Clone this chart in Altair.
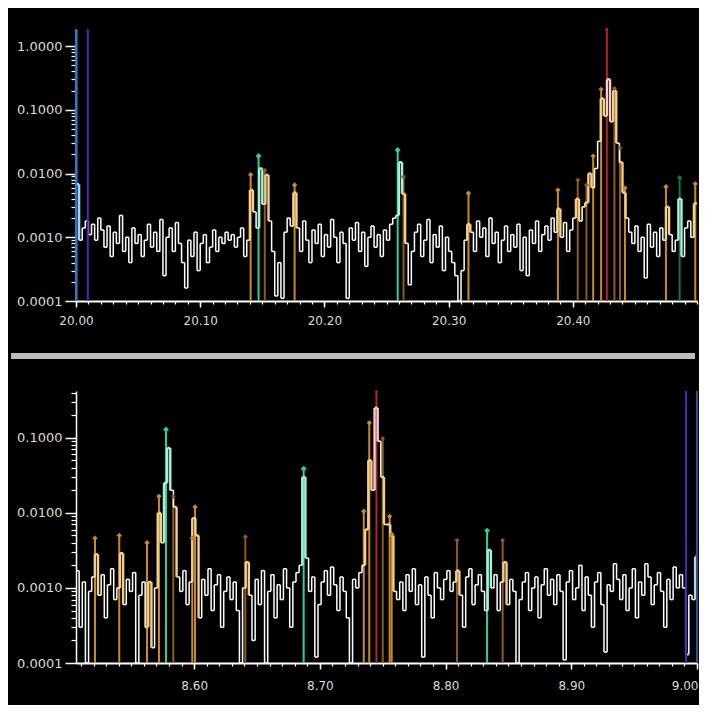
import altair as alt
import pandas as pd

# ---------------- data (intensities in units of 1e-4) ----------------
bin_width = 0.0025

top_x_domain = [20.0, 20.5]
top_y_domain = [0.0001, 1.85]
top_spec_e4 = [
    68, 9, 14, 18, 11, 16, 9, 20, 13, 7,
    15, 5, 12, 8, 22, 6, 10, 4, 14, 8,
    11, 5, 9, 16, 7, 12, 6, 19, 2.5, 10,
    14, 6, 17, 8, 4, 1.6, 9, 5, 12, 3,
    8, 11, 4, 7, 13, 6, 10, 8, 12, 9,
    11, 7, 10, 14, 5, 9, 55, 25, 14, 120,
    33, 95, 18, 6, 1.2, 4, 1.1, 12, 20, 15,
    50, 14, 6, 18, 9, 4, 13, 8, 16, 5,
    11, 7, 19, 10, 4, 12, 8, 1.1, 14, 9,
    17, 6, 12, 3.5, 10, 15, 7, 11, 5, 13,
    9, 16, 20, 22, 150, 48, 8, 1.8, 6, 12,
    16, 5, 9, 19, 4, 11, 7, 15, 3, 10,
    6, 4, 2.5, 1.0, 3, 9, 16, 12, 6, 18,
    10, 14, 5, 20, 8, 12, 4, 9, 15, 6,
    11, 7, 16, 3, 10, 2.5, 13, 8, 18, 6,
    11, 15, 9, 20, 12, 28, 10, 17, 6, 13,
    20, 40, 18, 30, 35, 100, 60, 120, 320, 1500,
    800, 3000, 650, 2000, 300, 150, 50, 20, 12, 8,
    15, 6, 10, 2.3, 16, 7, 12, 5, 14, 9,
    30, 11, 6, 9, 40, 5, 14, 18, 10, 34,
]
top_highlight = {0: "b", 56: "y", 59: "c", 61: "y", 70: "y", 104: "c", 105: "y",
                 126: "y", 155: "y", 161: "y", 164: "y", 165: "y", 169: "y",
                 171: "p", 173: "y", 175: "y", 176: "y", 190: "y", 194: "c", 199: "y"}
top_stick_x = [20.1406, 20.1470, 20.1520, 20.1760, 20.2590, 20.2637, 20.3160,
               20.3880, 20.4040, 20.4110, 20.4164, 20.4228, 20.4274, 20.4335,
               20.4380, 20.4420, 20.4750, 20.4860, 20.4986]
top_stick_y = [0.0096, 0.0188, 0.0113, 0.0066, 0.0234, 0.0089, 0.0049,
               0.0055, 0.0079, 0.0066, 0.0188, 0.209, 1.83, 0.217,
               0.0254, 0.0059, 0.0062, 0.0086, 0.0069]
top_stick_kind = ["o", "g", "od", "o", "g", "od", "o",
                  "o", "od", "od", "o", "o", "r", "od",
                  "od", "o", "o", "gd", "o"]
top_line_x = [20.0, 20.0095]
top_line_kind = ["blue", "purple"]
top_x_major = [20.0, 20.1, 20.2, 20.3, 20.4]
top_y_major = [0.0001, 0.001, 0.01, 0.1, 1.0]

bot_x_domain = [8.506, 9.0]
bot_y_domain = [0.0001, 0.42]
bot_spec_e4 = [
    17, 3, 12, 1.0, 9, 14, 28, 8, 15, 4,
    11, 18, 7, 10, 29, 6, 13, 9, 16, 1.0,
    8, 12, 3, 12, 1.6, 10, 100, 40, 250, 730,
    200, 120, 14, 9, 17, 6, 12, 85, 50, 4,
    13, 8, 18, 5, 11, 15, 3, 9, 14, 7,
    12, 5, 1.0, 10, 22, 8, 2, 13, 6, 17,
    1.0, 9, 15, 4, 11, 7, 18, 10, 3, 12,
    16, 20, 300, 25, 9, 14, 1.2, 6, 12, 17,
    8, 19, 11, 5, 14, 9, 4, 1.0, 13, 10,
    16, 20, 60, 500, 200, 2500, 900, 300, 70, 70,
    50, 9, 7, 12, 5, 15, 9, 18, 6, 11,
    1.2, 14, 8, 4, 16, 10, 7, 13, 17, 9,
    12, 17, 8, 3, 14, 18, 6, 11, 15, 9,
    5, 32, 10, 15, 5, 12, 22, 6, 13, 9,
    1.0, 7, 12, 16, 5, 10, 14, 4, 11, 18,
    8, 13, 6, 15, 9, 1.1, 12, 17, 7, 10,
    20, 5, 14, 8, 3, 12, 16, 6, 1.4, 11,
    9, 21, 13, 7, 15, 5, 10, 18, 4, 12,
    8, 21, 14, 6, 11, 16, 9, 3, 13, 7,
    19, 10, 15, 10, 1.3, 8, 7, 26,
]
bot_highlight = {6: "y", 14: "y", 22: "y", 23: "y", 26: "y", 28: "c", 29: "c", 31: "y",
                 37: "y", 38: "y", 54: "y", 72: "c", 92: "y", 93: "y", 95: "p", 97: "y",
                 99: "y", 100: "y", 121: "y", 131: "c", 136: "y", 194: "l", 197: "s"}
bot_stick_x = [8.5211, 8.5404, 8.5625, 8.5720, 8.5776, 8.5834, 8.5985, 8.6007,
               8.6407, 8.6871, 8.7349, 8.7393, 8.7450, 8.7500, 8.7555, 8.7571,
               8.8091, 8.8330, 8.8454]
bot_stick_y = [0.0046, 0.0050, 0.0040, 0.0166, 0.129, 0.0166, 0.0046, 0.0120,
               0.0048, 0.0387, 0.0105, 0.158, 0.41, 0.098, 0.0090, 0.0052,
               0.0043, 0.0058, 0.0043]
bot_stick_kind = ["o", "o", "o", "o", "g", "od", "o", "o",
                  "od", "g", "o", "o", "r", "od", "o", "o",
                  "od", "g", "od"]
bot_line_x = [8.9913, 9.0]
bot_line_kind = ["purple", "steel"]
bot_x_major = [8.6, 8.7, 8.8, 8.9, 9.0]
bot_y_major = [0.0001, 0.001, 0.01, 0.1]

# ---------------- styling ----------------
HL = {"w": "#ffffff", "y": "#f3cf8a", "c": "#a6f2da", "p": "#f7cccc",
      "b": "#9fd2ff", "l": "#cbb8f5", "s": "#b9d3ee"}
STICK = {"o": "#c98a2c", "od": "#8e5b1f", "g": "#2fcf9c", "gd": "#1d7048",
         "r": "#b3262a"}
LINE = {"blue": "#1f7fd6", "purple": "#4a2ab8", "steel": "#2f5585"}
MSIZE = {"o": 28, "od": 24, "g": 34, "gd": 30, "r": 14}
FONT = "DejaVu Sans"
WHITE_W = 1.5
HL_W = 2.4


def spectrum_segments(x0, x1, vals_e4, hl):
    vals = [v * 1e-4 for v in vals_e4]
    codes = [hl.get(i, "w") for i in range(len(vals))]
    rows = []
    for i, v in enumerate(vals):
        xa = x0 + i * bin_width
        xb = min(xa + bin_width, x1)
        rows.append(dict(x=xa, x2=xb, y=v, y2=v, c=HL[codes[i]],
                         w=WHITE_W if codes[i] == "w" else HL_W, o=0 if codes[i] == "w" else 1))
        if i + 1 < len(vals):
            j = i if vals[i] >= vals[i + 1] else i + 1
            rows.append(dict(x=xb, x2=xb, y=v, y2=vals[i + 1], c=HL[codes[j]],
                             w=WHITE_W if codes[j] == "w" else HL_W, o=0 if codes[j] == "w" else 1))
    df = pd.DataFrame(rows)
    return df.sort_values("o", kind="stable")


def log_minor(top):
    out = []
    for e in range(-4, 1):
        for k in range(2, 10):
            v = k * 10.0 ** e
            if v <= top:
                out.append(v)
    return out


def panel(x_dom, y_dom, spec, hl, sx, sy, skind, lx, lkind, xmaj, ymaj,
          x_label_pad, flush, separator):
    xs = alt.Scale(domain=x_dom, nice=False, zero=False)
    ys = alt.Scale(type="log", domain=y_dom, nice=False)
    common = dict(domainColor="white", tickColor="white", labelColor="#d9d9d9",
                  labelFont=FONT, grid=False, title=None)
    xflush = dict(labelFlush=True, labelFlushOffset=1) if flush else dict(labelFlush=False)
    x_major_axis = alt.Axis(orient="bottom", values=xmaj, format=".2f", tickSize=6,
                            tickWidth=1.5, domainWidth=2, labelFontSize=12,
                            labelPadding=x_label_pad, minExtent=30, maxExtent=30,
                            **xflush, **common)
    y_major_axis = alt.Axis(orient="left", values=ymaj, format=".4f", tickSize=11,
                            tickWidth=1.5, domainWidth=1.5, labelFontSize=13,
                            labelPadding=3, minExtent=68, maxExtent=68, **common)
    n_minor = int(round((x_dom[1] - x_dom[0]) / 0.01)) + 2
    x_minor_vals = [round(x_dom[0] - x_dom[0] % 0.01 + 0.01 * k, 2) for k in range(n_minor)]
    x_minor_vals = [v for v in x_minor_vals if x_dom[0] <= v <= x_dom[1]]
    x_minor_axis = alt.Axis(orient="bottom", values=x_minor_vals, labels=False, domain=False,
                            tickSize=3, tickWidth=1.2, tickColor="white", grid=False,
                            title=None, minExtent=30, maxExtent=30)
    y_minor_axis = alt.Axis(orient="left", values=log_minor(y_dom[1]), labels=False,
                            domain=False, tickSize=5, tickWidth=1.2, tickColor="white",
                            grid=False, title=None, minExtent=68, maxExtent=68)

    seg = spectrum_segments(x_dom[0], x_dom[1], spec, hl)
    sticks = pd.DataFrame({"x": sx, "y": sy, "base": [y_dom[0]] * len(sx),
                           "c": [STICK[k] for k in skind],
                           "s": [MSIZE[k] for k in skind]})
    lines = pd.DataFrame({"x": lx, "c": [LINE[k] for k in lkind]})

    stick_layer = alt.Chart(sticks).mark_rule(strokeWidth=2).encode(
        x=alt.X("x:Q", scale=xs, axis=None),
        y=alt.Y("y:Q", scale=ys, axis=None),
        y2="base:Q",
        color=alt.Color("c:N", scale=None),
    )
    spec_layer = alt.Chart(seg).mark_rule().encode(
        x=alt.X("x:Q", scale=xs, axis=x_major_axis),
        x2="x2:Q",
        y=alt.Y("y:Q", scale=ys, axis=y_major_axis),
        y2="y2:Q",
        color=alt.Color("c:N", scale=None),
        strokeWidth=alt.StrokeWidth("w:Q", scale=None),
    )
    marker_layer = alt.Chart(sticks).mark_point(shape="diamond", filled=True, opacity=1).encode(
        x=alt.X("x:Q", scale=xs, axis=None),
        y=alt.Y("y:Q", scale=ys, axis=None),
        color=alt.Color("c:N", scale=None),
        size=alt.Size("s:Q", scale=None),
    )
    line_layer = alt.Chart(lines).mark_rule(strokeWidth=2).encode(
        x=alt.X("x:Q", scale=xs, axis=None),
        color=alt.Color("c:N", scale=None),
    )
    minor_layer = alt.Chart(sticks).mark_point(opacity=0).encode(
        x=alt.X("x:Q", scale=xs, axis=x_minor_axis),
        y=alt.Y("y:Q", scale=ys, axis=y_minor_axis),
    )
    layers = [stick_layer, spec_layer, marker_layer, line_layer, minor_layer]
    if separator:
        sep = alt.Chart(pd.DataFrame({"a": [0]})).mark_rule(
            color="#bcbcbc", strokeWidth=6).encode(
            x=alt.value(-65), x2=alt.value(619), y=alt.value(327))
        layers.append(sep)
    return alt.layer(*layers).resolve_axis(x="independent", y="independent").properties(
        width=621, height=272)


top = panel(top_x_domain, top_y_domain, top_spec_e4, top_highlight, top_stick_x,
            top_stick_y, top_stick_kind, top_line_x, top_line_kind, top_x_major,
            top_y_major, 8, False, True)
bottom = panel(bot_x_domain, bot_y_domain, bot_spec_e4, bot_highlight, bot_stick_x,
               bot_stick_y, bot_stick_kind, bot_line_x, bot_line_kind, bot_x_major,
               bot_y_major, 11, True, False)

chart = alt.vconcat(top, bottom, spacing=30).properties(
    background="black",
    padding={"left": 0, "top": 18, "right": 0, "bottom": 12},
).configure_view(stroke=None)

chart.save("out.html", embed_options={"renderer": "svg", "actions": False})
